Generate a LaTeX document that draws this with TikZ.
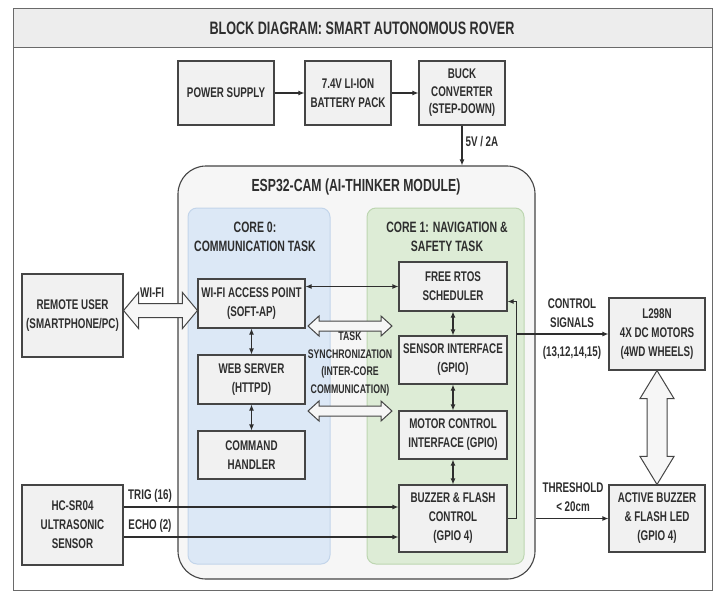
\documentclass[tikz,border=0pt]{standalone}
\usepackage{fontspec}
\setmainfont{Liberation Sans}[FakeStretch=0.7]
\usetikzlibrary{arrows.meta,calc}
\definecolor{ink}{HTML}{2E2E2E}
\definecolor{boxline}{HTML}{454545}
\definecolor{boxfill}{HTML}{F1F1F1}
\definecolor{band}{HTML}{EDEDED}
\definecolor{espfill}{HTML}{F6F6F6}
\definecolor{bluefill}{HTML}{DCE8F6}
\definecolor{blueline}{HTML}{C3D5EA}
\definecolor{greenfill}{HTML}{DDECD6}
\definecolor{greenline}{HTML}{BDD6B1}
\newcommand\hbig[5]{%
  \draw[hollow] (#1) -- ($(#1)+(#3,#4)$) -- ($(#1)+(#3,#5)$) -- ($(#2)+(-#3,#5)$)
    -- ($(#2)+(-#3,#4)$) -- (#2) -- ($(#2)+(-#3,-#4)$) -- ($(#2)+(-#3,-#5)$)
    -- ($(#1)+(#3,-#5)$) -- ($(#1)+(#3,-#4)$) -- cycle;}
\newcommand\vbig[5]{%
  \draw[hollow] (#1) -- ($(#1)+(#4,#3)$) -- ($(#1)+(#5,#3)$) -- ($(#2)+(#5,-#3)$)
    -- ($(#2)+(#4,-#3)$) -- (#2) -- ($(#2)+(-#4,-#3)$) -- ($(#2)+(-#5,-#3)$)
    -- ($(#1)+(-#5,#3)$) -- ($(#1)+(-#4,#3)$) -- cycle;}
\begin{document}
\begin{tikzpicture}[x=1pt, y=-1pt,
    >={Latex[length=6pt,width=5pt]},
    every node/.style={text=ink, font=\bfseries\fontsize{14}{19}\selectfont, align=center},
    blk/.style={draw=boxline, fill=boxfill, line width=1.1pt, inner sep=0pt},
    frame/.style={draw=boxline!80, line width=1pt},
    hollow/.style={draw=boxline, fill=espfill, line width=1pt, line join=miter},
    link/.style={draw=ink, line width=1.1pt}]
  \useasboundingbox (0,0) rectangle (719,592);
  \draw[frame, fill=white] (13,8) rectangle (712,590);
  \draw[frame, fill=band] (13,8) rectangle (712,47);
  \node[font=\bfseries\fontsize{18}{20}\selectfont] (title) at (362,28) {BLOCK DIAGRAM: SMART AUTONOMOUS ROVER};

  \node[blk, minimum width=96pt, minimum height=64pt] (pwr) at (226,93) {POWER SUPPLY};
  \node[blk, minimum width=86pt, minimum height=64pt] (bat) at (348,93) {7.4V LI-ION\\BATTERY PACK};
  \node[blk, minimum width=86pt, minimum height=64pt, font=\bfseries\fontsize{14}{17.5}\selectfont] (buck) at (462,93) {BUCK\\CONVERTER\\(STEP-DOWN)};

  \node[draw=boxline, fill=espfill, line width=1.1pt, rounded corners=28pt,
    minimum width=357pt, minimum height=413pt] (esp) at (356.5,372.5) {};
  \node[font=\bfseries\fontsize{17.5}{20}\selectfont] (esptitle) at (356,187) {ESP32-CAM (AI-THINKER MODULE)};
  \node[draw=blueline, fill=bluefill, line width=1pt, rounded corners=9pt,
    minimum width=142pt, minimum height=356pt] (core0) at (259,386) {};
  \node[draw=greenline, fill=greenfill, line width=1pt, rounded corners=9pt,
    minimum width=157pt, minimum height=356pt] (core1) at (445.5,386) {};
  \node[font=\bfseries\fontsize{15}{19}\selectfont] (c0title) at (255,237) {CORE 0:\\COMMUNICATION TASK};
  \node[font=\bfseries\fontsize{15}{19}\selectfont] (c1title) at (447,237) {CORE 1: NAVIGATION \&\\SAFETY TASK};

  \node[blk, minimum width=107pt, minimum height=49pt] (ap) at (251.5,303.5) {WI-FI ACCESS POINT\\(SOFT-AP)};
  \node[blk, minimum width=107pt, minimum height=49pt] (web) at (251.5,379.5) {WEB SERVER\\(HTTPD)};
  \node[blk, minimum width=107pt, minimum height=48pt] (cmd) at (251.5,455) {COMMAND\\HANDLER};
  \node[blk, minimum width=108pt, minimum height=49pt] (rtos) at (453,286.5) {FREE RTOS\\SCHEDULER};
  \node[blk, minimum width=108pt, minimum height=48pt] (sens) at (453,360) {SENSOR INTERFACE\\(GPIO)};
  \node[blk, minimum width=108pt, minimum height=48pt] (mot) at (453,435) {MOTOR CONTROL\\INTERFACE (GPIO)};
  \node[blk, minimum width=108pt, minimum height=67pt] (buz) at (453,518.5) {BUZZER \& FLASH\\CONTROL\\(GPIO 4)};

  \node[blk, minimum width=101pt, minimum height=83pt] (user) at (72.5,315.5) {REMOTE USER\\(SMARTPHONE/PC)};
  \node[blk, minimum width=101pt, minimum height=80pt] (hc) at (72.5,525) {HC-SR04\\ULTRASONIC\\SENSOR};
  \node[blk, minimum width=96pt, minimum height=72pt] (l298) at (657,334) {L298N\\4X DC MOTORS\\(4WD WHEELS)};
  \node[blk, minimum width=96pt, minimum height=67pt] (act) at (657,518.5) {ACTIVE BUZZER\\\& FLASH LED\\(GPIO 4)};

  \draw[link, ->] (pwr) -- (bat);
  \draw[link, ->] (bat) -- (buck);
  \draw[link, ->] (buck.south) -- (buck.south |- esp.north)
    node[pos=0.4, right, inner sep=3pt] (volt) {5V / 2A};

  \draw[link, <->] (ap.east |- rtos.west) -- (rtos.west);
  \draw[link, <->] (ap) -- (web);
  \draw[link, <->] (web) -- (cmd);
  \draw[link, <->] (rtos) -- (sens);
  \draw[link, <->] (sens) -- (mot);
  \draw[link, <->] (mot) -- (buz);

  \coordinate (wl) at ($(user.east)+(0,-5)$);
  \hbig{wl}{wl -| ap.west}{15}{18}{7}
  \node (wifi) at (152,293) {WI-FI};

  \coordinate (s1) at (308,326);
  \coordinate (s2) at (392,326);
  \coordinate (s3) at (308,411);
  \coordinate (s4) at (392,411);
  \hbig{s1}{s2}{11}{10}{5}
  \hbig{s3}{s4}{11}{10}{5}
  \node[font=\bfseries\fontsize{12.5}{17.5}\selectfont] (sync) at (350,364) {TASK\\SYNCHRONIZATION\\(INTER-CORE\\COMMUNICATION)};

  \coordinate (fb) at ($(buz.east)+(9,0)$);
  \draw[link, ->] (buz.east) -- (fb) |- ($(rtos.east)+(0,15)$);
  \draw[link, ->] (fb |- l298.west) -- (l298.west);
  \node (ctrl) at (572,313) {CONTROL\\SIGNALS};
  \node (pins) at (572,353) {(13,12,14,15)};

  \draw[link, ->] (esp.east |- act.west) -- (act.west);
  \node (thr) at (573,497) {THRESHOLD\\< 20cm};

  \vbig{l298.south}{act.north}{28}{17}{10}

  \coordinate (t1) at ($(hc.east)+(0,-18)$);
  \coordinate (e1) at ($(hc.east)+(0,12)$);
  \draw[link, ->] (t1) -- (t1 -| buz.west);
  \draw[link, ->] (e1) -- (e1 -| buz.west);
  \node (trig) at (150,496) {TRIG (16)};
  \node (echo) at (150,526) {ECHO (2)};
\end{tikzpicture}
\end{document}
